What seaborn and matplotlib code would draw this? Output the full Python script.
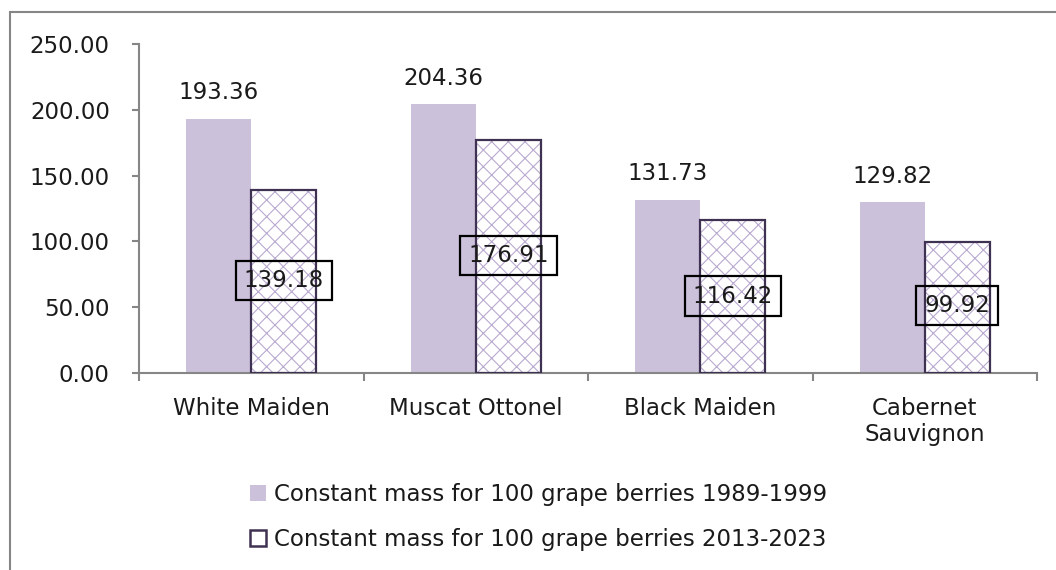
import numpy as np
import pandas as pd
import matplotlib
matplotlib.use("Agg")
import matplotlib.pyplot as plt
from matplotlib.patches import Patch, Rectangle
import seaborn as sns

# Grape varieties and mean mass of 100 berries (g) for the two periods
varieties = ["White Maiden", "Muscat Ottonel", "Black Maiden", "Cabernet Sauvignon"]
tick_labels = ["White Maiden", "Muscat Ottonel", "Black Maiden", "Cabernet\nSauvignon"]
periods = ["Constant mass for 100 grape berries 1989-1999",
           "Constant mass for 100 grape berries 2013-2023"]
mass_1989_1999 = [193.36, 204.36, 131.73, 129.82]
mass_2013_2023 = [139.18, 176.91, 116.42, 99.92]
# vertical anchor (data units) of the boxed labels on the recent-period bars
boxed_label_y = [70.0, 89.5, 58.5, 51.0]

lavender = "#CCC1DA"
hatch_purple = "#B9AAD0"
dark_purple = "#3F3151"
axis_grey = "#868686"
text_col = "#1A1A1A"
fs = 16.5

sns.set_style("white")
plt.rcParams["font.family"] = ["DejaVu Sans"]
plt.rcParams["hatch.linewidth"] = 0.8
plt.rcParams["hatch.color"] = hatch_purple

df = pd.DataFrame({
    "variety": varieties * 2,
    "period": [periods[0]] * 4 + [periods[1]] * 4,
    "mass": mass_1989_1999 + mass_2013_2023,
})

fig = plt.figure(figsize=(10.56, 5.70), dpi=100)
ax = fig.add_axes([139 / 1056, 1 - 373 / 570, (1037 - 139) / 1056, (373 - 44) / 570])

sns.barplot(data=df, x="variety", y="mass", hue="period", order=varieties,
            hue_order=periods, palette=[lavender, "white"], width=0.58, gap=0,
            saturation=1, errorbar=None, legend=False, ax=ax)

old_bars, new_bars = ax.containers[0], ax.containers[1]
for bar in old_bars:
    bar.set_edgecolor("none")
    bar.set_linewidth(0)

# recent period: light lattice hatch with a dark outline on top
for bar in new_bars:
    bar.set_facecolor("white")
    bar.set_edgecolor(hatch_purple)
    bar.set_linewidth(0)
    bar.set_hatch("xx")
    ax.add_patch(Rectangle((bar.get_x(), bar.get_y()), bar.get_width(), bar.get_height(),
                           fill=False, edgecolor=dark_purple, linewidth=1.6, zorder=3))

# value labels
for bar, v in zip(old_bars, mass_1989_1999):
    ax.annotate(f"{v:.2f}", xy=(bar.get_x() + bar.get_width() / 2, v),
                xytext=(0, 14), textcoords="offset points", ha="center",
                va="baseline", fontsize=fs, color=text_col)
for bar, v, ly in zip(new_bars, mass_2013_2023, boxed_label_y):
    ax.text(bar.get_x() + bar.get_width() / 2, ly, f"{v:.2f}", ha="center",
            va="center", fontsize=fs, color=text_col, zorder=5,
            bbox=dict(boxstyle="square,pad=0.35", facecolor="none",
                      edgecolor="black", linewidth=1.6))

# axes styling
ax.set_ylim(0, 250)
ax.set_xlim(-0.5, len(varieties) - 0.5)
ax.set_yticks(np.arange(0, 251, 50))
ax.set_yticklabels([f"{t:.2f}" for t in np.arange(0, 251, 50)])
ax.set_xticks(range(len(varieties)))
ax.set_xticklabels(tick_labels)
ax.set_xticks(np.arange(-0.5, len(varieties), 1.0), minor=True)
ax.set_xlabel("")
ax.set_ylabel("")
for side in ("top", "right"):
    ax.spines[side].set_visible(False)
for side in ("left", "bottom"):
    ax.spines[side].set_color(axis_grey)
    ax.spines[side].set_linewidth(1.5)
ax.tick_params(axis="y", which="major", length=5, width=1.5, color=axis_grey,
               direction="out", left=True, pad=16, labelsize=fs, labelcolor=text_col)
ax.tick_params(axis="x", which="major", length=0, pad=17, labelsize=fs,
               labelcolor=text_col)
ax.tick_params(axis="x", which="minor", length=6, width=1.5, color=axis_grey,
               direction="out", bottom=True)

# legend
handles = [Patch(facecolor=lavender, edgecolor="none"),
           Patch(facecolor="white", edgecolor=dark_purple, linewidth=1.8)]
fig.legend(handles, periods, loc="center", bbox_to_anchor=(539 / 1056, 1 - 517 / 570),
           frameon=False, fontsize=fs, handlelength=0.7, handleheight=0.7,
           handletextpad=0.35, labelspacing=1.0, labelcolor=text_col)

# chart-area frame
fig.patches.append(Rectangle((10 / 1056, -0.1), 1.2, 1.1 - 12 / 570,
                             transform=fig.transFigure, fill=False,
                             edgecolor=axis_grey, linewidth=1.5))

fig.savefig("out.png", dpi=100)
